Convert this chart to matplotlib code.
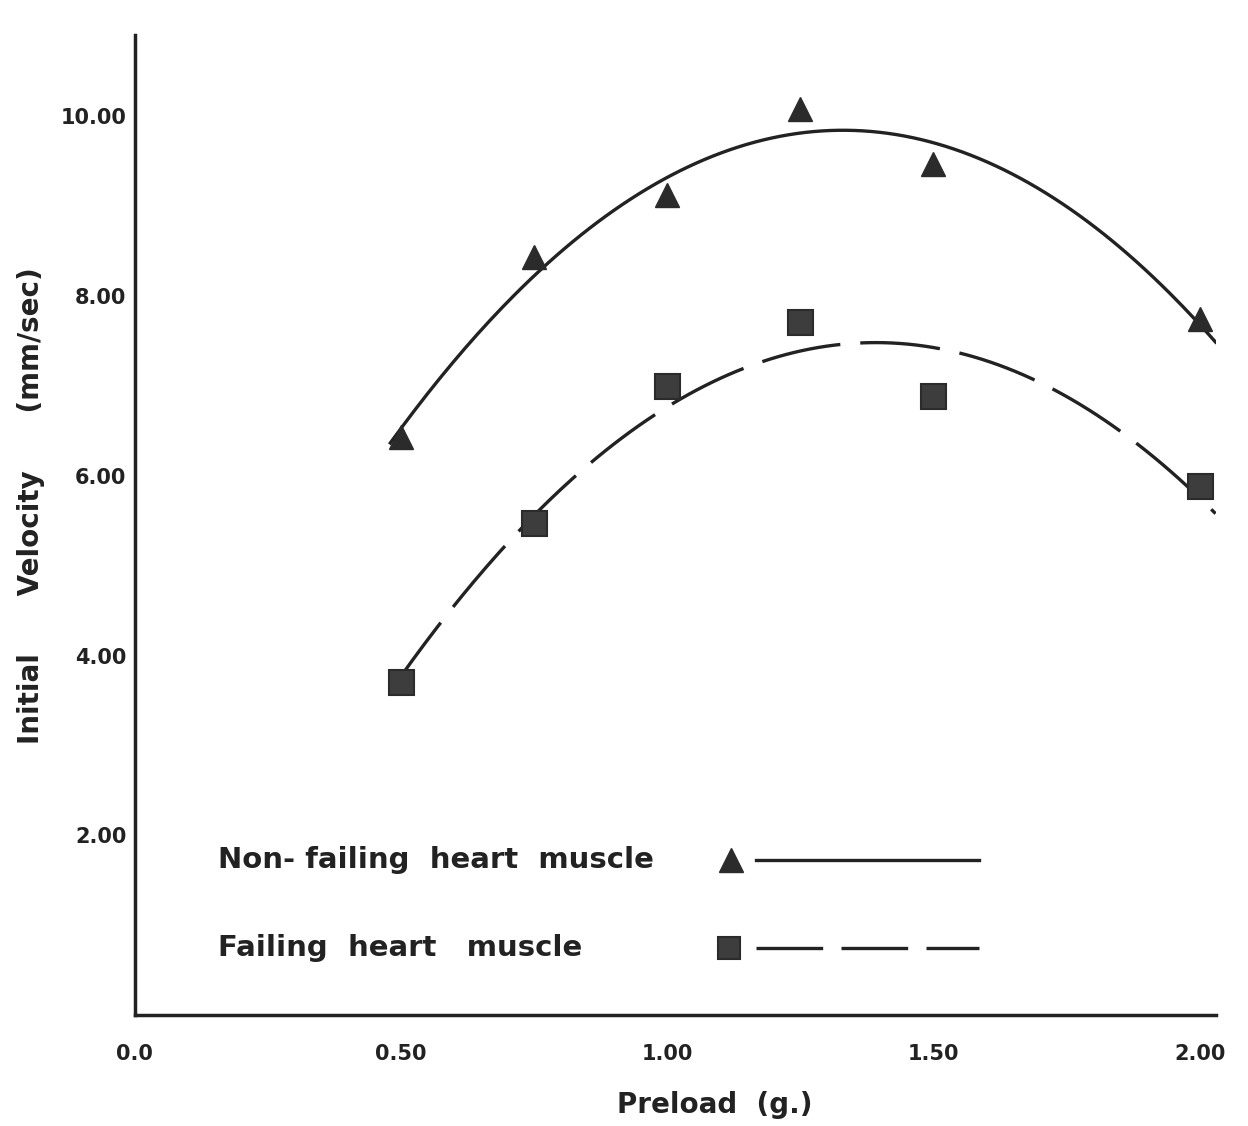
import numpy as np
import matplotlib
matplotlib.use("Agg")
import matplotlib.pyplot as plt

# preload (g) and initial shortening velocity (mm/sec)
preload = [0.50, 0.75, 1.00, 1.25, 1.50, 2.00]
nonfailing = [6.43, 8.43, 9.13, 10.08, 9.47, 7.74]
failing = [3.71, 5.47, 7.00, 7.71, 6.89, 5.89]

x_ticks = [0.0, 0.5, 1.0, 1.5, 2.0]
x_labels = ["0.0", "0.50", "1.00", "1.50", "2.00"]
y_ticks = [2.0, 4.0, 6.0, 8.0, 10.0]
y_labels = ["2.00", "4.00", "6.00", "8.00", "10.00"]

ink = "#222222"
plt.rcParams['font.family'] = ['DejaVu Sans']
plt.rcParams['font.weight'] = 'bold'

fig = plt.figure(figsize=(12.48, 11.26), dpi=100)
ax = fig.add_axes([0.108, 0.0985, 0.866, 0.870])

# second order fits through each series
xs = np.linspace(0.48, 2.03, 200)
fit_nf = np.polyfit(preload, nonfailing, 2)
ax.plot(xs, np.polyval(fit_nf, xs), color=ink, lw=2.4)
xs2 = np.linspace(0.50, 2.03, 200)
fit_f = np.polyfit(preload, failing, 2)
ax.plot(xs2, np.polyval(fit_f, xs2), color=ink, lw=2.4,
        linestyle=(4, (24, 6)))

ax.plot(preload, nonfailing, ls="none", marker="^", ms=17, color="#2b2b2b",
        mec="#2b2b2b")
ax.plot(preload, failing, ls="none", marker="s", ms=18, color="#3d3d3d",
        mec="#2b2b2b", mew=1.5)

ax.set_xlim(0, 2.03)
ax.set_ylim(0, 10.9)
ax.set_xticks(x_ticks, x_labels)
ax.set_yticks(y_ticks, y_labels)
ax.tick_params(length=0, labelsize=15, colors=ink)
ax.tick_params(axis="x", pad=21)
ax.tick_params(axis="y", pad=6)
for s in ["top", "right"]:
    ax.spines[s].set_visible(False)
for s in ["left", "bottom"]:
    ax.spines[s].set_linewidth(2.5)
    ax.spines[s].set_color(ink)

ax.set_xlabel("Preload  (g.)", fontsize=20, color=ink, fontweight="bold")
ax.xaxis.set_label_coords(0.537, -0.077)
ax.set_ylabel("Initial      Velocity      (mm/sec)", fontsize=20, color=ink,
              fontweight="bold")
ax.yaxis.set_label_coords(-0.083, 0.52)

# key, drawn in axes fraction
tr = ax.transAxes
ax.text(0.077, 0.158, "Non- failing  heart  muscle", transform=tr,
        fontsize=21, color=ink, va="center")
ax.text(0.077, 0.068, "Failing  heart   muscle", transform=tr,
        fontsize=21, color=ink, va="center")
ax.plot([0.552], [0.158], transform=tr, marker="^", ms=17, color="#2b2b2b")
ax.plot([0.575, 0.781], [0.158, 0.158], transform=tr, color=ink, lw=2.4)
ax.plot([0.550], [0.068], transform=tr, marker="s", ms=16, color="#3d3d3d",
        mec="#2b2b2b", mew=1.5)
ax.plot([0.575, 0.781], [0.068, 0.068], transform=tr, color=ink, lw=2.4,
        dashes=(20, 5.5))

fig.savefig("out.png", dpi=100, facecolor="white")
